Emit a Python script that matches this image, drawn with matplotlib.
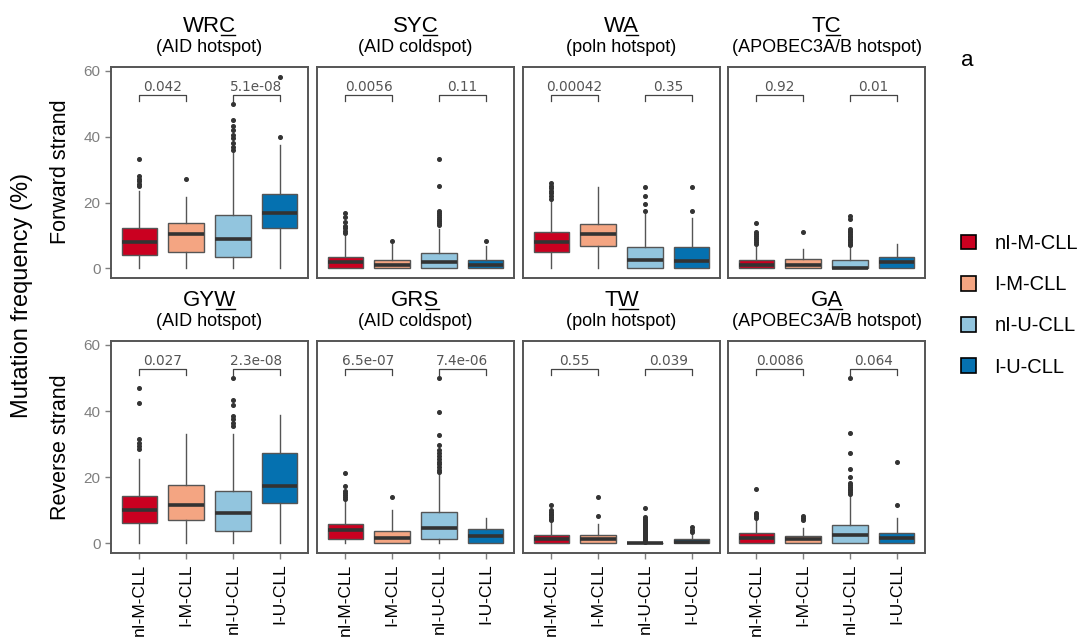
import matplotlib
matplotlib.use("Agg")
import matplotlib.pyplot as plt
from matplotlib.patches import Patch
from matplotlib.lines import Line2D

plt.rcParams['font.family'] = ['Liberation Sans', 'DejaVu Sans']

groups = ["nI-M-CLL", "I-M-CLL", "nI-U-CLL", "I-U-CLL"]
colors = ["#CA0020", "#F4A582", "#92C5DE", "#0571B0"]

motifs = ["WRC", "SYC", "WA", "TC", "GYW", "GRS", "TW", "GA"]
subtitles = ["(AID hotspot)", "(AID coldspot)", "(poln hotspot)", "(APOBEC3A/B hotspot)",
             "(AID hotspot)", "(AID coldspot)", "(poln hotspot)", "(APOBEC3A/B hotspot)"]

# p-values: (nI-M vs I-M, nI-U vs I-U)
pvals = [("0.042", "5.1e-08"), ("0.0056", "0.11"), ("0.00042", "0.35"), ("0.92", "0.01"),
         ("0.027", "2.3e-08"), ("6.5e-07", "7.4e-06"), ("0.55", "0.039"), ("0.0086", "0.064")]

# box statistics per motif, one value per group
wrc_q1 = [4.0, 5.1, 3.5, 12.2]
wrc_med = [7.9, 10.4, 8.9, 16.8]
wrc_q3 = [12.4, 13.9, 16.3, 22.5]
wrc_hi = [23.5, 21.7, 35.0, 37.6]
wrc_out = [[25.0, 25.8, 26.5, 27.2, 28.0, 33.4], [27.1],
           [36.0, 37.0, 38.0, 39.6, 40.6, 42.1, 43.4, 45.2, 49.9], [39.9, 58.3]]

syc_q1 = [0.0, 0.0, 0.0, 0.0]
syc_med = [2.1, 1.1, 2.0, 1.2]
syc_q3 = [3.6, 2.7, 4.8, 2.7]
syc_hi = [10.0, 7.4, 12.0, 6.9]
syc_out = [[10.8, 11.5, 12.3, 13.0, 14.0, 15.5, 16.9], [8.2],
           [13.2, 13.8, 14.4, 15.0, 15.6, 16.2, 16.8, 17.5, 25.1, 33.4], [8.2]]

wa_q1 = [5.0, 6.7, 0.0, 0.0]
wa_med = [7.9, 10.6, 2.5, 2.3]
wa_q3 = [11.1, 13.6, 6.4, 6.4]
wa_hi = [20.5, 24.8, 16.5, 15.4]
wa_out = [[21.2, 22.0, 22.8, 23.6, 24.4, 25.2, 26.0], [],
          [17.5, 19.7, 22.0, 24.8], [17.5, 24.8]]

tc_q1 = [0.0, 0.0, 0.0, 0.0]
tc_med = [1.0, 1.2, 0.0, 2.0]
tc_q3 = [2.5, 3.0, 2.6, 3.5]
tc_hi = [6.5, 5.8, 6.5, 7.4]
tc_out = [[7.4, 8.0, 8.6, 9.2, 9.8, 10.4, 11.0, 13.7], [11.0],
          [7.0, 7.5, 8.0, 8.5, 9.0, 9.5, 10.0, 10.5, 11.0, 11.5, 12.0, 14.9, 15.9], []]

gyw_q1 = [6.2, 7.2, 3.8, 12.3]
gyw_med = [10.0, 11.7, 9.2, 17.4]
gyw_q3 = [14.2, 17.7, 15.8, 27.2]
gyw_hi = [25.6, 33.2, 33.1, 38.7]
gyw_out = [[28.5, 29.5, 30.5, 31.5, 42.5, 46.9], [],
           [35.5, 36.5, 37.5, 38.5, 42.0, 43.5, 50.0], []]

grs_q1 = [1.4, 0.0, 1.2, 0.0]
grs_med = [4.0, 1.5, 4.7, 2.2]
grs_q3 = [5.8, 3.8, 9.5, 4.4]
grs_hi = [12.5, 10.0, 21.0, 7.8]
grs_out = [[13.3, 13.9, 14.5, 15.1, 15.7, 17.3, 21.2], [13.9],
           [21.5, 22.3, 23.1, 23.9, 24.7, 25.5, 26.3, 27.2, 28.3, 29.8, 32.8, 39.8, 49.9], []]

tw_q1 = [0.0, 0.0, 0.0, 0.0]
tw_med = [1.3, 1.3, 0.0, 0.4]
tw_q3 = [2.4, 2.4, 0.0, 1.2]
tw_hi = [6.5, 6.0, 0.0, 2.8]
tw_out = [[7.0, 7.5, 8.0, 8.5, 9.0, 9.5, 10.0, 11.7], [8.2, 13.9],
          [0.3, 0.6, 0.9, 1.2, 1.5, 1.8, 2.1, 2.4, 2.7, 3.0, 3.3, 3.6, 3.9, 4.2, 4.5,
           4.8, 5.1, 5.4, 5.7, 6.0, 6.3, 6.6, 6.9, 7.2, 7.5, 8.1, 10.6], [3.3, 4.0, 4.9]]

ga_q1 = [0.0, 0.0, 0.0, 0.0]
ga_med = [1.7, 1.2, 2.5, 1.7]
ga_q3 = [3.0, 2.2, 5.7, 3.0]
ga_hi = [7.0, 4.7, 14.5, 7.7]
ga_out = [[7.6, 8.2, 8.8, 9.3, 16.5], [7.0, 7.8, 8.4],
          [14.8, 15.4, 16.0, 16.6, 17.2, 17.8, 18.4, 20.0, 22.4, 27.3, 33.3, 49.9], [11.5, 24.6]]

panel_stats = [
    (wrc_q1, wrc_med, wrc_q3, wrc_hi, wrc_out),
    (syc_q1, syc_med, syc_q3, syc_hi, syc_out),
    (wa_q1, wa_med, wa_q3, wa_hi, wa_out),
    (tc_q1, tc_med, tc_q3, tc_hi, tc_out),
    (gyw_q1, gyw_med, gyw_q3, gyw_hi, gyw_out),
    (grs_q1, grs_med, grs_q3, grs_hi, grs_out),
    (tw_q1, tw_med, tw_q3, tw_hi, tw_out),
    (ga_q1, ga_med, ga_q3, ga_hi, ga_out),
]

fig = plt.figure(figsize=(10.88, 6.44), dpi=100)
W, H = 1088, 644

col_x = [111, 317, 523, 728]
panel_w = 197
row_top = [67, 341]
row_h = [211, 212]

frame_col = "#555555"
axes = []
for i, (q1, med, q3, hi, out) in enumerate(panel_stats):
    r, c = divmod(i, 4)
    ax = fig.add_axes([col_x[c] / W, 1 - (row_top[r] + row_h[r]) / H, panel_w / W, row_h[r] / H])
    axes.append(ax)
    stats = []
    for g in range(4):
        stats.append(dict(q1=q1[g], med=med[g], q3=q3[g], whislo=0.0, whishi=hi[g],
                          fliers=out[g]))
    bp = ax.bxp(stats, positions=[1, 2, 3, 4], widths=0.75, patch_artist=True,
                showcaps=False,
                boxprops=dict(edgecolor="#555555", linewidth=1.0),
                medianprops=dict(color="#333333", linewidth=2.6, solid_capstyle="butt"),
                whiskerprops=dict(color="#555555", linewidth=1.0),
                flierprops=dict(marker="o", markersize=2.6, markerfacecolor="#333333",
                                markeredgecolor="#333333", linestyle="none"))
    for patch, col in zip(bp["boxes"], colors):
        patch.set_facecolor(col)

    ax.set_xlim(0.4, 4.6)
    ax.set_ylim(-2.9, 61.2)
    for s in ax.spines.values():
        s.set_color(frame_col)
        s.set_linewidth(1.4)

    # significance brackets
    top = 52.8
    for (a, b), p in zip([(1, 2), (3, 4)], pvals[i]):
        ax.plot([a, a, b, b], [top - 2.0, top, top, top - 2.0], color="#444444", lw=0.9)
        ax.text((a + b) / 2, top + 0.3, p, ha="center", va="bottom", fontsize=9.8,
                color="#555555", family=["DejaVu Sans"])

    if c == 0:
        ax.set_yticks([0, 20, 40, 60])
        ax.tick_params(axis="y", colors="#7f7f7f", labelsize=11, length=4, width=1,
                       labelcolor="#7f7f7f")
    else:
        ax.set_yticks([])
    if r == 1:
        ax.set_xticks([1, 2, 3, 4])
        ax.set_xticklabels(groups, rotation=90, fontsize=12.5, color="black")
        ax.tick_params(axis="x", color="#7f7f7f", length=4, width=1)
    else:
        ax.set_xticks([])

fig.canvas.draw()
renderer = fig.canvas.get_renderer()

# panel titles with the last base underlined
for i, ax in enumerate(axes):
    r, c = divmod(i, 4)
    cx = (col_x[c] + panel_w / 2) / W
    base_px = row_top[r] - 35
    t = fig.text(cx, 1 - base_px / H, motifs[i], ha="center", va="baseline", fontsize=16)
    fig.text(cx, 1 - (row_top[r] - 19) / H, subtitles[i], ha="center", va="center", fontsize=13)
    bb = t.get_window_extent(renderer)
    tmp = fig.text(0, 0, motifs[i][:-1], fontsize=16)
    pw = tmp.get_window_extent(renderer).width
    tmp.remove()
    x0 = (bb.x0 + pw + 1) / W
    x1 = (bb.x1 - 1) / W
    uy = 1 - (base_px + 2.5) / H
    fig.add_artist(Line2D([x0, x1], [uy, uy], transform=fig.transFigure, color="black", lw=1.0))

fig.text(60 / W, 1 - 172 / H, "Forward strand", rotation=90, ha="center", va="center", fontsize=15.5)
fig.text(60 / W, 1 - 447 / H, "Reverse strand", rotation=90, ha="center", va="center", fontsize=15.5)
fig.text(22 / W, 1 - 295 / H, "Mutation frequency (%)", rotation=90, ha="center", va="center",
         fontsize=17)
fig.text(967 / W, 1 - 60 / H, "a", ha="center", va="center", fontsize=16)

handles = [Patch(facecolor=col, edgecolor="black", linewidth=1.2) for col in colors]
fig.legend(handles, groups, loc="upper left", bbox_to_anchor=(953 / W, 1 - 226 / H),
           frameon=False, fontsize=14.5, handlelength=0.75, handleheight=0.75,
           labelspacing=1.1, handletextpad=0.9, borderaxespad=0)

fig.savefig("out.png", dpi=100)
